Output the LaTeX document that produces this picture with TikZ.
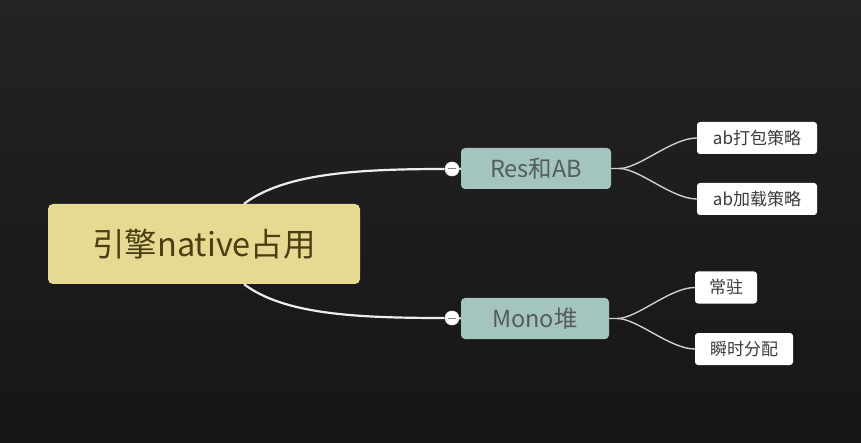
\documentclass[tikz,border=0pt]{standalone}
\usepackage{fontspec}
\setmainfont{Noto Sans CJK SC}
\begin{document}
\begin{tikzpicture}[x=1pt,y=-1pt,
  rootbox/.style={draw=none,fill=rootfill,rounded corners=5pt,minimum width=312pt,minimum height=80pt,inner sep=0pt,text=roottext,font=\fontsize{32.5}{36}\selectfont},
  midbox/.style={fill=midfill,rounded corners=4pt,minimum height=41pt,inner sep=0pt,text=midtext,font=\fontsize{23.5}{26}\selectfont},
  leafbox/.style={fill=white,rounded corners=3pt,minimum height=32pt,inner sep=0pt,text=leaftext,font=\fontsize{17}{19}\selectfont},
  mainline/.style={draw=linecol,line width=2.2pt},
  subline/.style={draw=sublinecol,line width=1.4pt},
  knob/.style={circle,fill=white,draw=linecol,line width=0.6pt,minimum size=14pt,inner sep=0pt}]
\definecolor{rootfill}{HTML}{E6DA92}
\definecolor{roottext}{HTML}{4A3F12}
\definecolor{midfill}{HTML}{A4C5BF}
\definecolor{midtext}{HTML}{555C5B}
\definecolor{leaftext}{HTML}{3A3A3A}
\definecolor{linecol}{HTML}{EDEDED}
\definecolor{sublinecol}{HTML}{CFCFCF}
\definecolor{bgtop}{HTML}{232323}
\definecolor{bgbot}{HTML}{161616}
\shade[top color=bgtop,bottom color=bgbot] (0,0) rectangle (861,443);
\useasboundingbox (0,0) rectangle (861,443);

\node[rootbox] (root) at (204,244) {引擎native占用};
\node[midbox,minimum width=150pt] (res) at (536,168.5) {Res和AB};
\node[midbox,minimum width=148pt] (mono) at (535,318.5) {Mono堆};
\node[leafbox,minimum width=120pt] (pack) at (757,138) {ab打包策略};
\node[leafbox,minimum width=62pt] (stay) at (726,287.5) {常驻};
\node[leafbox,minimum width=120pt] (load) at (757,199) {ab加载策略};
\node[leafbox,minimum width=98pt] (inst) at (744,349) {瞬时分配};

\node[knob] (k1) at (452,169) {};
\node[knob] (k2) at (452,318) {};
\draw[gray,line width=1pt] ([xshift=-4pt]k1.center) -- ([xshift=4pt]k1.center);
\draw[gray,line width=1pt] ([xshift=-4pt]k2.center) -- ([xshift=4pt]k2.center);

\draw[mainline] (root.north) ++(40,0) coordinate (r1) .. controls +(40,-30) and +(-90,0) .. (k1.west);
\draw[mainline] (root.south) ++(40,0) coordinate (r2) .. controls +(40,30) and +(-90,0) .. (k2.west);
\draw[mainline] (k1.east) -- (res.west);
\draw[mainline] (k2.east) -- (mono.west);

\draw[subline] (res.east) -- ++(8,0) coordinate (rs) .. controls +(20,0) and +(-25,0) .. (pack.west);
\draw[subline] (rs) .. controls +(20,0) and +(-25,0) .. (load.west);
\draw[subline] (mono.east) -- ++(8,0) coordinate (ms) .. controls +(20,0) and +(-25,0) .. (stay.west);
\draw[subline] (ms) .. controls +(20,0) and +(-25,0) .. (inst.west);
\end{tikzpicture}
\end{document}
